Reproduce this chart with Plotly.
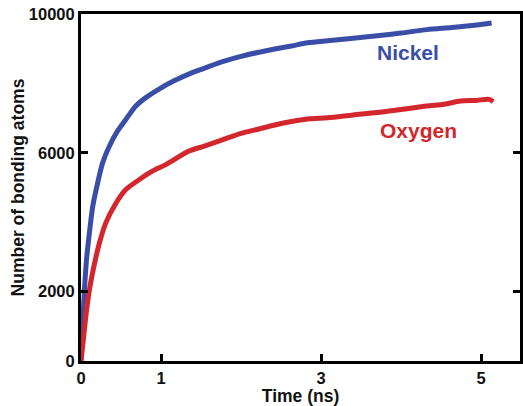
import plotly.graph_objects as go

# Data
nickel_t = [0, 0.02, 0.043, 0.07, 0.105, 0.147, 0.209, 0.27, 0.354, 0.457, 0.56, 0.685,
            0.81, 0.97, 1.15, 1.39, 1.6, 1.80, 2.0, 2.21, 2.42, 2.63, 2.83, 3.08, 3.4,
            3.70, 4.0, 4.32, 4.63, 4.94, 5.13]
nickel_v = [0, 1000, 2050, 2950, 3690, 4460, 5140, 5710, 6190, 6630, 6960, 7350,
            7590, 7830, 8060, 8310, 8490, 8650, 8780, 8890, 8990, 9080, 9170, 9230, 9300,
            9370, 9450, 9550, 9610, 9680, 9740]

oxygen_t = [0, 0.02, 0.06, 0.105, 0.17, 0.23, 0.31, 0.44, 0.56, 0.73, 0.89, 1.06,
            1.35, 1.55, 1.80, 2.0, 2.21, 2.42, 2.63, 2.85, 3.08, 3.40, 3.70, 4.0,
            4.32, 4.54, 4.74, 4.94, 5.10, 5.15]
oxygen_v = [0, 410, 1280, 2050, 2820, 3400, 3980, 4560, 4940, 5230, 5470, 5660,
            6050, 6200, 6400, 6560, 6680, 6800, 6900, 6980, 7010, 7090, 7160, 7250,
            7350, 7400, 7490, 7510, 7540, 7470]

x_ticks = [0, 1, 3, 5]
y_ticks = [0, 2000, 6000, 10000]

BLUE = "#3a4ea8"
RED = "#d3262d"
FONT = "Liberation Sans, Arial, sans-serif"

fig = go.Figure()
fig.add_trace(go.Scatter(x=nickel_t, y=nickel_v, mode="lines", name="Nickel",
                         line=dict(color=BLUE, width=5, shape="spline", smoothing=0.8)))
fig.add_trace(go.Scatter(x=oxygen_t, y=oxygen_v, mode="lines", name="Oxygen",
                         line=dict(color=RED, width=5, shape="spline", smoothing=0.8)))

fig.add_annotation(x=3.67, y=8900, text="Nickel", showarrow=False, xanchor="left",
                   yanchor="middle",
                   font=dict(family=FONT, size=21, color=BLUE, weight="bold"))
fig.add_annotation(x=3.71, y=6650, text="Oxygen", showarrow=False, xanchor="left",
                   yanchor="middle",
                   font=dict(family=FONT, size=21, color=RED, weight="bold"))

axis_font = dict(family=FONT, size=16.5, color="#111111", weight="bold")
title_font = dict(family=FONT, size=17.5, color="#111111", weight="bold")

fig.update_layout(
    width=523, height=406,
    margin=dict(l=81, r=0, t=14, b=45),
    paper_bgcolor="white", plot_bgcolor="white",
    showlegend=False,
    xaxis=dict(range=[0, 5.485], tickvals=x_ticks, ticktext=[str(v) for v in x_ticks],
               showgrid=False, zeroline=False, showline=True, linewidth=3,
               linecolor="black", mirror=True, ticks="inside", ticklen=7,
               tickwidth=3, tickcolor="black", tickfont=axis_font,
               title=dict(text="Time (ns)", font=title_font, standoff=4)),
    yaxis=dict(range=[0, 10000], tickvals=y_ticks, ticktext=[str(v) for v in y_ticks],
               showgrid=False, zeroline=False, showline=True, linewidth=3,
               linecolor="black", mirror="ticks", ticks="inside", ticklen=7,
               tickwidth=3, tickcolor="black", tickfont=axis_font,
               title=dict(text="Number of bonding atoms", font=title_font, standoff=0)),
)

fig.write_html("out.html")
